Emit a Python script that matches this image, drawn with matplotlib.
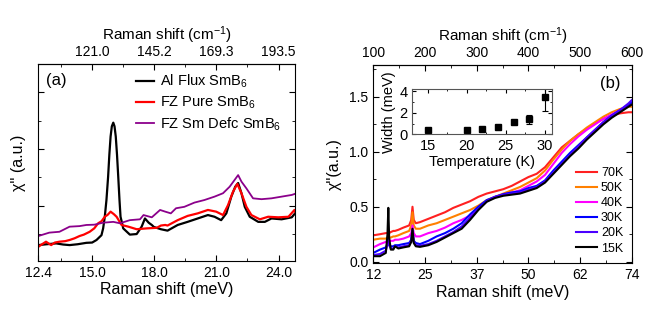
import numpy as np
import matplotlib
matplotlib.use("Agg")
import matplotlib.pyplot as plt

plt.rcParams['font.family'] = ['Liberation Sans', 'DejaVu Sans']
plt.rcParams['mathtext.fontset'] = 'custom'
plt.rcParams['mathtext.rm'] = 'Liberation Sans'
plt.rcParams['mathtext.it'] = 'Liberation Sans:italic'

MEV_TO_CM = 8.0655

# ---- panel (a): three samples, Raman shift in meV, chi'' in arb. units
al_flux_x = [12.4, 12.8, 13.26, 13.6, 13.91, 14.3, 14.72, 15.0, 15.21, 15.45, 15.53, 15.61,
             15.69, 15.77, 15.83, 15.89, 15.95, 16.02, 16.08, 16.14, 16.20, 16.26, 16.32,
             16.37, 16.44, 16.50, 16.82, 17.15, 17.39, 17.55, 17.73, 17.88, 17.98, 18.32,
             18.64, 19.13, 19.61, 20.10, 20.59, 20.91, 21.23, 21.48, 21.72, 21.91, 22.05,
             22.21, 22.37, 22.61, 23.02, 23.34, 23.66, 24.15, 24.64, 24.80]
al_flux_y = [-0.39, -0.36, -0.33, -0.37, -0.39, -0.36, -0.31, -0.30, -0.21, -0.04, 0.20, 0.61,
             1.20, 2.02, 2.80, 3.44, 3.80, 3.93, 3.80, 3.44, 2.80, 2.02, 1.20,
             0.61, 0.40, 0.20, -0.02, 0.0, 0.26, 0.55, 0.40, 0.32, 0.25, 0.17,
             0.12, 0.32, 0.43, 0.55, 0.67, 0.61, 0.49, 0.73, 1.32, 1.67, 1.80,
             1.44, 0.96, 0.61, 0.43, 0.43, 0.55, 0.52, 0.59, 0.73]

fz_pure_x = [12.4, 12.6, 12.77, 13.02, 13.2, 13.42, 13.7, 13.91, 14.15, 14.39, 14.6, 14.88,
             15.1, 15.29, 15.45, 15.61, 15.75, 15.89, 16.05, 16.18, 16.42, 16.75, 17.15,
             17.64, 18.12, 18.32, 18.53, 18.64, 19.13, 19.61, 20.10, 20.59, 20.99, 21.32,
             21.56, 21.80, 22.01, 22.21, 22.45, 22.69, 23.10, 23.50, 23.99, 24.48, 24.77, 24.88]
fz_pure_y = [-0.45, -0.35, -0.27, -0.39, -0.30, -0.27, -0.25, -0.21, -0.15, -0.07, -0.02, 0.08,
             0.20, 0.38, 0.45, 0.61, 0.68, 0.79, 0.70, 0.61, 0.32, 0.26, 0.17,
             0.20, 0.22, 0.30, 0.32, 0.30, 0.49, 0.64, 0.73, 0.85, 0.79, 0.67,
             1.02, 1.49, 1.77, 1.44, 0.96, 0.67, 0.52, 0.61, 0.59, 0.61, 0.85, 0.67]

fz_defc_x = [12.4, 12.93, 13.42, 13.91, 14.39, 14.72, 15.1, 15.53, 16.02, 16.34, 16.82, 17.31,
             17.48, 17.88, 18.28, 18.53, 18.80, 19.05, 19.45, 19.94, 20.42, 20.91, 21.32,
             21.64, 21.88, 22.05, 22.21, 22.45, 22.77, 23.18, 23.66, 24.15, 24.64, 24.88]
fz_defc_y = [-0.07, 0.05, 0.08, 0.26, 0.28, 0.32, 0.33, 0.40, 0.43, 0.38, 0.49, 0.52,
             0.67, 0.59, 0.85, 0.79, 0.73, 0.91, 0.96, 1.11, 1.20, 1.32, 1.44,
             1.67, 1.91, 2.08, 1.85, 1.61, 1.26, 1.23, 1.26, 1.32, 1.38, 1.44]

a_labels = ['Al Flux SmB$_6$', 'FZ Pure SmB$_6$', 'FZ Sm Defc SmB$_6$']
a_colors = ['black', '#ff0000', '#8b008b']
a_bottom_ticks = [12.4, 15.0, 18.0, 21.0, 24.0]
a_top_ticks_mev = [15.0, 18.0, 21.0, 24.0]
a_top_labels = ['121.0', '145.2', '169.3', '193.5']

# ---- panel (b): temperature dependence
b_energy = [12.4, 14.0, 15.4, 15.8, 16.0, 16.2, 16.6, 17.2, 17.6, 18.4, 19.6, 21.0, 21.5,
            21.8, 22.1, 22.6, 23.6, 25.6, 27.6, 29.6, 31.6, 33.6, 35.6, 37.6, 39.6, 41.6,
            43.6, 45.6, 47.6, 49.6, 51.6, 53.6, 55.6, 57.6, 59.6, 61.6, 63.6, 65.6, 67.6,
            69.6, 71.6, 73.6, 74.4]
chi_70K = [0.24, 0.25, 0.26, 0.26, 0.27, 0.26, 0.27, 0.28, 0.28, 0.29, 0.31, 0.33, 0.38,
           0.50, 0.38, 0.35, 0.36, 0.39, 0.42, 0.45, 0.49, 0.52, 0.55, 0.59, 0.62, 0.64,
           0.66, 0.69, 0.73, 0.77, 0.80, 0.86, 0.95, 1.04, 1.10, 1.16, 1.21, 1.26, 1.30,
           1.33, 1.35, 1.36, 1.36]
chi_50K = [0.20, 0.21, 0.21, 0.22, 0.22, 0.22, 0.22, 0.23, 0.23, 0.24, 0.26, 0.28, 0.33,
           0.45, 0.33, 0.30, 0.30, 0.33, 0.35, 0.38, 0.41, 0.44, 0.47, 0.51, 0.56, 0.59,
           0.62, 0.65, 0.68, 0.72, 0.76, 0.83, 0.93, 1.02, 1.10, 1.16, 1.22, 1.27, 1.32,
           1.36, 1.39, 1.41, 1.41]
chi_40K = [0.13, 0.16, 0.18, 0.19, 0.20, 0.19, 0.19, 0.19, 0.20, 0.20, 0.21, 0.23, 0.26,
           0.33, 0.26, 0.23, 0.23, 0.26, 0.28, 0.31, 0.35, 0.38, 0.42, 0.48, 0.55, 0.59,
           0.61, 0.63, 0.65, 0.69, 0.73, 0.79, 0.89, 0.99, 1.07, 1.14, 1.20, 1.25, 1.30,
           1.34, 1.38, 1.42, 1.43]
chi_30K = [0.08, 0.11, 0.13, 0.16, 0.18, 0.15, 0.14, 0.14, 0.15, 0.15, 0.16, 0.17, 0.20,
           0.28, 0.19, 0.17, 0.16, 0.19, 0.23, 0.26, 0.30, 0.35, 0.43, 0.50, 0.56, 0.59,
           0.615, 0.63, 0.64, 0.67, 0.69, 0.74, 0.83, 0.91, 0.99, 1.06, 1.13, 1.20, 1.27,
           1.33, 1.38, 1.43, 1.45]
chi_20K = [0.06, 0.07, 0.10, 0.16, 0.22, 0.15, 0.12, 0.12, 0.14, 0.13, 0.14, 0.15, 0.19,
           0.29, 0.18, 0.15, 0.145, 0.16, 0.19, 0.23, 0.27, 0.32, 0.40, 0.48, 0.55, 0.59,
           0.61, 0.62, 0.63, 0.655, 0.68, 0.73, 0.81, 0.89, 0.97, 1.05, 1.13, 1.20, 1.27,
           1.33, 1.38, 1.44, 1.47]
chi_15K = [0.05, 0.05, 0.08, 0.25, 0.49, 0.22, 0.11, 0.11, 0.14, 0.12, 0.13, 0.14, 0.18,
           0.30, 0.17, 0.14, 0.135, 0.15, 0.18, 0.22, 0.26, 0.30, 0.38, 0.47, 0.545, 0.58,
           0.60, 0.61, 0.62, 0.645, 0.67, 0.72, 0.80, 0.88, 0.96, 1.03, 1.11, 1.18, 1.25,
           1.31, 1.36, 1.41, 1.43]
b_labels = ['70K', '50K', '40K', '30K', '20K', '15K']
b_colors = ['#ff2020', '#ff8000', '#ff00ff', '#0000ff', '#4b00ff', 'black']
b_top_ticks_cm = [100, 200, 300, 400, 500, 600]
b_bottom_labels = ['12', '25', '37', '50', '62', '74']

# ---- inset: peak width vs temperature
inset_T = [15, 20, 22, 24, 26, 28, 30]
inset_width = [0.40, 0.40, 0.47, 0.69, 1.16, 1.40, 3.50]
inset_err = [0.12, 0.10, 0.10, 0.10, 0.15, 0.42, 1.30]


def to_cm(e):
    return e * MEV_TO_CM


def to_mev(c):
    return c / MEV_TO_CM


def style_ticks(a, major=4, minor=2, **kw):
    a.tick_params(which='both', direction='in', **kw)
    a.tick_params(which='major', length=major)
    a.tick_params(which='minor', length=minor)


fig = plt.figure(figsize=(6.54, 3.27), dpi=100)

# panel (a)
ax = fig.add_axes([0.0586, 0.2028, 0.3925, 0.6015])
for xs, ys, lab, c, lw in zip([al_flux_x, fz_pure_x, fz_defc_x],
                              [al_flux_y, fz_pure_y, fz_defc_y],
                              a_labels, a_colors, [1.6, 1.6, 1.3]):
    ax.plot(xs, ys, color=c, lw=lw, label=lab)
ax.set_xlim(12.4, 200 / MEV_TO_CM)
ax.set_ylim(-0.94, 6.0)
ax.set_xticks(a_bottom_ticks)
ax.set_xticklabels(['%.1f' % t for t in a_bottom_ticks])
ax.set_xticks([13.5, 16.5, 19.5, 22.5], minor=True)
ax.set_yticks([1, 3, 5])
ax.set_yticks([0, 2, 4], minor=True)
style_ticks(ax, top=False, right=True, labelleft=False, labelsize=10)
ax.set_xlabel('Raman shift (meV)', fontsize=11.5, labelpad=2)
ax.set_ylabel("\u03c7'' (a.u.)", fontsize=11.5, labelpad=9)
sec = ax.secondary_xaxis('top', functions=(to_cm, to_mev))
sec.set_xticks([to_cm(t) for t in a_top_ticks_mev], labels=a_top_labels)
sec.set_xticks([to_cm(t) for t in [13.5, 16.5, 19.5, 22.5]], minor=True)
style_ticks(sec, labelsize=10)
sec.set_xlabel('Raman shift (cm$^{-1}$)', fontsize=11, labelpad=4)
ax.text(0.028, 0.914, '(a)', transform=ax.transAxes, fontsize=12, va='center')
ax.legend(loc='upper left', bbox_to_anchor=(0.381, 0.955), frameon=False,
          fontsize=10.5, handlelength=1.25, handletextpad=0.4, labelspacing=0.3,
          borderpad=0, borderaxespad=0)

# panel (b)
bx = fig.add_axes([0.5708, 0.1957, 0.3951, 0.6055])
for ys, lab, c in zip([chi_70K, chi_50K, chi_40K, chi_30K, chi_20K, chi_15K],
                      b_labels, b_colors):
    bx.plot(b_energy, ys, color=c, lw=1.5, label=lab)
bx.set_xlim(to_mev(100), to_mev(600))
bx.set_ylim(-0.012, 1.79)
bx.set_xticks([to_mev(c) for c in b_top_ticks_cm], labels=b_bottom_labels)
bx.set_xticks([to_mev(c) for c in [150, 250, 350, 450, 550]], minor=True)
bx.set_yticks([0.0, 0.5, 1.0, 1.5])
bx.set_yticklabels(['0.0', '0.5', '1.0', '1.5'])
bx.set_yticks([0.25, 0.75, 1.25, 1.75], minor=True)
style_ticks(bx, top=False, right=True, labelsize=10)
bx.set_xlabel('Raman shift (meV)', fontsize=11.5, labelpad=2)
bx.set_ylabel("\u03c7''(a.u.)", fontsize=11.5, labelpad=5)
sec_b = bx.secondary_xaxis('top', functions=(to_cm, to_mev))
sec_b.set_xticks(b_top_ticks_cm)
sec_b.set_xticks([150, 250, 350, 450, 550], minor=True)
style_ticks(sec_b, labelsize=10)
sec_b.set_xlabel('Raman shift (cm$^{-1}$)', fontsize=11, labelpad=4)
bx.text(0.916, 0.909, '(b)', transform=bx.transAxes, fontsize=12,
        ha='center', va='center')
leg = bx.legend(loc='upper left', bbox_to_anchor=(0.784, 0.485), frameon=False,
                fontsize=9, handlelength=1.7, handletextpad=0.3, labelspacing=0.25,
                borderpad=0, borderaxespad=0)
for h in leg.legend_handles:
    h.set_linewidth(1.5)

# inset
ix = fig.add_axes([0.6295, 0.5887, 0.2141, 0.1382])
ix.errorbar(inset_T, inset_width, yerr=inset_err, fmt='s', color='black',
            ms=4, capsize=2, elinewidth=0.8, capthick=0.8)
ix.set_xlim(12.9, 30.9)
ix.set_ylim(0, 4.2)
ix.set_xticks([15, 20, 25, 30])
ix.set_xticks([17.5, 22.5, 27.5], minor=True)
ix.set_yticks([0, 2, 4])
ix.set_yticks([1, 3], minor=True)
style_ticks(ix, major=3, minor=1.5, top=True, right=True, labelsize=10.5, pad=3)
ix.set_xlabel('Temperature (K)', fontsize=10.5, labelpad=1.5)
ix.set_ylabel('Width (meV)', fontsize=10.5, labelpad=2)
for s in ix.spines.values():
    s.set_color('#555555')

fig.savefig('out.png', dpi=100)
